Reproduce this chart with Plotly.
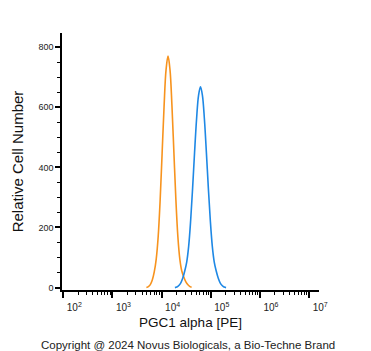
import plotly.graph_objects as go

# ---- data ----
# log10 of PE intensity, and relative cell number
orange_logx = [3.69, 3.73, 3.77, 3.81, 3.85, 3.89, 3.93, 3.97, 4.01, 4.05, 4.09, 4.13,
               4.17, 4.21, 4.25, 4.29, 4.33, 4.37, 4.41, 4.45, 4.49, 4.53, 4.57, 4.61]
orange_y = [0, 3, 10, 25, 52, 95, 170, 292, 447, 604, 725, 770,
            725, 604, 447, 292, 170, 95, 55, 35, 20, 10, 4, 1]

blue_logx = [4.27, 4.31, 4.35, 4.39, 4.43, 4.47, 4.51, 4.55, 4.59, 4.63, 4.67, 4.71, 4.75, 4.79,
             4.83, 4.87, 4.91, 4.95, 4.99, 5.03, 5.07, 5.11, 5.15, 5.19, 5.23, 5.27, 5.31]
blue_y = [0, 2, 7, 16, 32, 55, 85, 138, 223, 331, 450, 560, 639, 668,
          639, 560, 450, 331, 223, 138, 85, 55, 32, 16, 7, 2, 0]

x_major_exp = [2, 3, 4, 5, 6, 7]
y_major = [0, 200, 400, 600, 800]

orange_x = [10 ** v for v in orange_logx]
blue_x = [10 ** v for v in blue_logx]

fig = go.Figure()
fig.add_trace(go.Scatter(x=orange_x, y=orange_y, mode="lines",
                         line=dict(color="#F7931E", width=1.6, shape="spline"),
                         showlegend=False, hoverinfo="skip"))
fig.add_trace(go.Scatter(x=blue_x, y=blue_y, mode="lines",
                         line=dict(color="#1E88E5", width=1.6, shape="spline"),
                         showlegend=False, hoverinfo="skip"))

minor_vals = [m * 10 ** e for e in range(1, 8) for m in range(2, 10)]

font_family = "Liberation Sans, Arial, sans-serif"

fig.update_layout(
    width=371, height=351,
    margin=dict(l=62, r=52, t=33, b=61),
    paper_bgcolor="white", plot_bgcolor="white",
    font=dict(family=font_family, color="black"),
    xaxis=dict(
        type="log", range=[1.974, 7.2],
        tickmode="array",
        tickvals=[10 ** e for e in x_major_exp],
        ticktext=[f"10<sup>{e}</sup>" for e in x_major_exp],
        ticks="outside", ticklen=6, tickwidth=1.5, tickcolor="black",
        ticklabelshift=11, ticklabelstandoff=1,
        tickfont=dict(size=10, color="#222222"),
        minor=dict(tickvals=minor_vals, ticks="outside", ticklen=3,
                   tickwidth=1, tickcolor="black", showgrid=False),
        showline=True, linecolor="black", linewidth=1.5,
        showgrid=False, zeroline=False,
        title=dict(text="PGC1 alpha [PE]", font=dict(size=13.5, color="#111111"), standoff=6),
    ),
    yaxis=dict(
        range=[-8, 847],
        tickmode="array", tickvals=y_major,
        ticks="outside", ticklen=5, tickwidth=1.5, tickcolor="black",
        tickfont=dict(size=9, color="#222222"),
        minor=dict(dtick=50, ticks="outside", ticklen=3, tickwidth=1,
                   tickcolor="black", showgrid=False),
        showline=True, linecolor="black", linewidth=1.5,
        showgrid=False, zeroline=False,
        title=dict(text="Relative Cell Number", font=dict(size=15, color="#111111"), standoff=11),
    ),
    annotations=[dict(
        text="Copyright @ 2024 Novus Biologicals, a Bio-Techne Brand",
        xref="paper", yref="paper", x=0.5, y=0, xanchor="center", yanchor="middle",
        xshift=-3, yshift=-55, showarrow=False,
        font=dict(size=11.5, color="#222222", family=font_family),
    )],
)

fig.write_html("out.html")
